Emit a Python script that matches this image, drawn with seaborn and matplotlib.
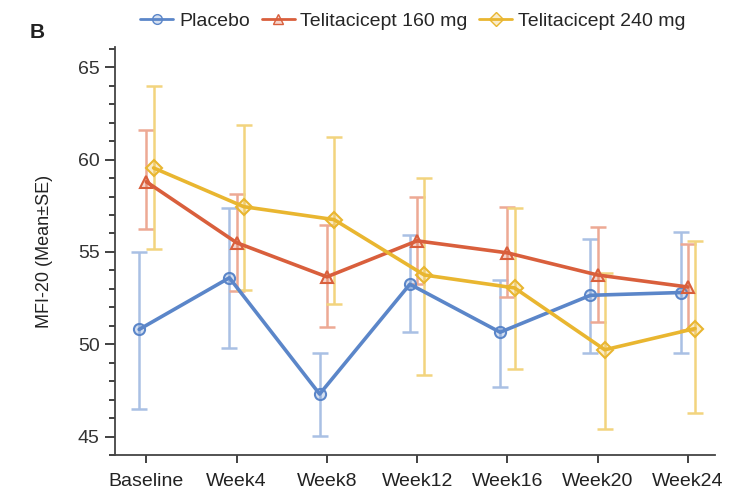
import numpy as np
import pandas as pd
import matplotlib
matplotlib.use("Agg")
import matplotlib.pyplot as plt
import seaborn as sns
from matplotlib.ticker import MultipleLocator
from matplotlib.lines import Line2D

sns.set_theme(style="ticks")
plt.rcParams['font.family'] = ['Liberation Sans', 'DejaVu Sans']

visits = ["Baseline", "Week4", "Week8", "Week12", "Week16", "Week20", "Week24"]
groups = ["Placebo", "Telitacicept 160 mg", "Telitacicept 240 mg"]

placebo_mean = [50.8, 53.6, 47.3, 53.25, 50.65, 52.65, 52.8]
placebo_lo = [46.5, 49.8, 45.05, 50.65, 47.7, 49.55, 49.5]
placebo_hi = [55.0, 57.4, 49.5, 55.9, 53.5, 55.7, 56.1]

t160_mean = [58.8, 55.5, 53.65, 55.6, 54.95, 53.75, 53.1]
t160_lo = [56.25, 52.9, 50.95, 53.25, 52.55, 51.2, 50.75]
t160_hi = [61.6, 58.15, 56.45, 57.95, 57.45, 56.35, 55.45]

t240_mean = [59.55, 57.45, 56.75, 53.75, 53.05, 49.7, 50.85]
t240_lo = [55.15, 52.95, 52.2, 48.35, 48.65, 45.4, 46.25]
t240_hi = [64.0, 61.85, 61.25, 59.0, 57.4, 53.85, 55.6]

colors = ["#5b86c9", "#d95f3c", "#e9b630"]
err_colors = ["#a9c0e4", "#eda994", "#f2d47e"]
markers = ["o", "^", "D"]
offsets = [-0.08, 0.0, 0.08]

means = [placebo_mean, t160_mean, t240_mean]
los = [placebo_lo, t160_lo, t240_lo]
his = [placebo_hi, t160_hi, t240_hi]

rows = []
for g, m, lo, hi, off in zip(groups, means, los, his, offsets):
    for i, v in enumerate(visits):
        rows.append(dict(group=g, visit=v, xpos=i + off, mean=m[i], lo=lo[i], hi=hi[i]))
df = pd.DataFrame(rows)

fig = plt.figure(figsize=(7.31, 5.0), dpi=100)
ax = fig.add_axes([0.157, 0.09, 0.821, 0.816])

for g, c, ec in zip(groups, colors, err_colors):
    d = df[df.group == g]
    ax.errorbar(d.xpos, d["mean"], yerr=[d["mean"] - d.lo, d.hi - d["mean"]],
                fmt="none", ecolor=ec, elinewidth=1.8, capsize=6, capthick=1.8, zorder=1)

sns.lineplot(data=df, x="xpos", y="mean", hue="group", style="group",
             hue_order=groups, style_order=groups,
             palette=dict(zip(groups, colors)), markers=dict(zip(groups, markers)),
             dashes=False, linewidth=2.6, markersize=8, markerfacecolor="none",
             markeredgewidth=1.5, ax=ax, zorder=3, legend=False)
for line, c in zip(ax.lines[-3:], colors):
    line.set_markerfacecolor(matplotlib.colors.to_rgba(c, 0.25))
    line.set_markeredgecolor(c)

ax.set_xlim(-0.35, 6.3)
ax.set_ylim(44.0, 66.1)
ax.set_xticks(range(len(visits)))
ax.set_xticklabels(visits, fontsize=14, color="#222222")
ax.set_yticks([45, 50, 55, 60, 65])
ax.yaxis.set_minor_locator(MultipleLocator(1))
ax.tick_params(axis="y", which="major", length=7, width=1.3, labelsize=14, colors="#333333", labelcolor="#333333", pad=4)
ax.tick_params(axis="y", which="minor", length=4, width=1.3, colors="#333333")
ax.tick_params(axis="x", which="major", length=6, width=1.3, colors="#333333", labelcolor="#222222", pad=7)
ax.set_xlabel("")
ax.set_ylabel("MFI-20 (Mean±SE)", fontsize=13, color="#222222", labelpad=18)
for s in ["top", "right"]:
    ax.spines[s].set_visible(False)
for s in ["left", "bottom"]:
    ax.spines[s].set_color("#444444")
    ax.spines[s].set_linewidth(1.3)

handles = [Line2D([], [], color=c, marker=m, markersize=7, linewidth=2,
                  markerfacecolor=matplotlib.colors.to_rgba(c, 0.25), markeredgecolor=c)
           for c, m in zip(colors, markers)]
fig.legend(handles, groups, loc="center", bbox_to_anchor=(0.565, 0.958), ncol=3,
           frameon=False, fontsize=14, handlelength=1.7, handletextpad=0.3, columnspacing=0.6)
fig.text(0.041, 0.925, "B", fontsize=15, fontweight="bold", color="#222222")

fig.savefig("out.png", dpi=100)
